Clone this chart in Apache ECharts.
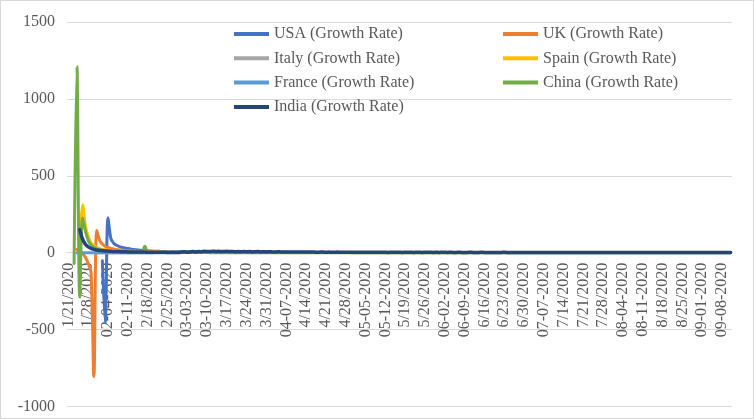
<!DOCTYPE html>
<html>
<head>
<meta charset="utf-8">
<script src="https://cdn.jsdelivr.net/npm/echarts@6/dist/echarts.min.js"></script>
<style>
  html, body { margin: 0; padding: 0; background: #fff; }
  #chart { position: absolute; left: 0; top: 0; width: 754px; height: 419px; }
  #frame { position: absolute; left: 0; top: 0; width: 752px; height: 417px; border: 1px solid #d9d9d9; pointer-events: none; }
</style>
</head>
<body>
<div id="chart"></div>
<div id="frame"></div>
<script>
// ---- categories: daily dates 1/21/2020 .. 9/12/2020 (labels as in the source sheet) ----
const startDate = [2020, 0, 21];
const dayCount = 235;
const categories = [];
for (let i = 0; i < dayCount; i++) {
  const d = new Date(Date.UTC(startDate[0], startDate[1], startDate[2] + i));
  const m = d.getUTCMonth() + 1, day = d.getUTCDate(), y = d.getUTCFullYear();
  categories.push(day <= 12
    ? String(m).padStart(2, '0') + '-' + String(day).padStart(2, '0') + '-' + y
    : m + '/' + day + '/' + y);
}

const yTicks = [-1000, -500, 0, 500, 1000, 1500];

const seriesNames = ['USA (Growth Rate)', 'UK (Growth Rate)', 'Italy (Growth Rate)', 'Spain (Growth Rate)',
                     'France (Growth Rate)', 'China (Growth Rate)', 'India (Growth Rate)'];
const seriesColors = ['#4472C4', '#ED7D31', '#A5A5A5', '#FFC000', '#5B9BD5', '#70AD47', '#264478'];

const usaGrowth = [
  null,null,null,null,null,null,null,null,null,null,
  null,null,-52,-455,227,92,62,48,40,34,
  30,27,24,21,19,17,15,14,12,11,
  10,9,9,8,8,7,7,6,6,6,
  5,6,5,7,8,6,7,8,7,8,
  8,7,8,7,6,7,6,7,6,5,
  6,5,5,4,5,4,4,4,3,4,
  3,3,3,3,3,3,2,3,2,2,
  2,2,2,2,2,2,2,2,2,2,
  2,2,2,1,2,2,1,2,1,1,
  1,2,1,1,1,1,1,1,1,1,
  1,1,1,1,1,1,1,1,1,1,
  1,1,1,1,1,1,1,1,1,1,
  1,1,1,1,1,1,1,1,1,1,
  1,1,1,1,1,1,2,1,1,1,
  1,1,1,1,2,2,1,1,1,2,
  2,2,1,2,2,1,2,2,2,1,
  2,1,2,2,1,2,1,1,1,1,
  1,1,1,1,1,1,1,1,1,1,
  1,1,1,1,1,1,1,1,1,1,
  1,1,1,1,1,1,1,1,1,1,
  1,1,1,1,1,1,1,1,1,1,
  1,1,1,1,1,1,1,1,1,1,
  1,1,1,1,1
];
const ukGrowth = [
  null,null,null,20,15,-5,-30,-70,-130,-805,
  145,82,56,42,34,28,24,20,18,16,
  14,13,12,11,10,9,8,8,7,7,
  6,6,6,5,5,5,5,4,4,4,
  4,5,6,5,7,6,8,7,6,7,
  6,7,5,6,5,6,4,5,4,4,
  4,3,4,3,3,3,3,2,3,2,
  2,2,2,2,2,2,2,2,1,2,
  1,1,1,1,1,1,1,1,1,1,
  1,1,1,1,1,1,1,1,1,1,
  1,1,1,1,1,1,1,1,1,1,
  1,1,1,1,1,1,1,1,1,1,
  1,1,1,1,1,1,1,1,1,1,
  1,1,1,1,1,1,1,1,1,1,
  1,1,1,1,1,1,1,1,1,1,
  1,1,1,1,1,1,1,1,1,1,
  1,1,1,1,1,1,1,1,1,1,
  1,1,1,1,1,1,1,1,1,1,
  1,1,1,1,1,1,1,1,1,1,
  1,1,1,1,1,1,1,1,1,1,
  1,1,1,1,1,1,1,1,1,1,
  1,1,1,1,1,1,1,1,1,1,
  1,1,1,1,1,1,1,1,1,1,
  1,1,1,1,1
];
const italyGrowth = [
  null,null,null,null,null,null,null,null,null,null,
  0,0,0,0,0,0,0,0,0,0,
  0,0,0,0,0,0,0,0,0,0,
  0,8,9,7,8,6,7,5,6,5,
  5,4,5,4,4,3,4,3,3,3,
  3,2,3,2,2,2,2,2,2,1,
  1,1,1,1,1,1,1,1,1,1,
  1,1,1,1,1,1,1,1,1,1,
  1,1,1,1,1,1,1,1,1,1,
  1,1,1,1,1,1,1,1,1,1,
  0,0,0,0,0,0,0,0,0,0,
  0,0,0,0,0,0,0,0,0,0,
  0,0,0,0,0,0,0,0,0,0,
  0,0,0,0,0,0,0,0,0,0,
  0,0,0,0,0,0,0,0,0,0,
  0,0,0,0,0,0,0,0,0,0,
  0,0,0,0,0,0,0,0,0,0,
  0,0,0,0,0,0,0,0,0,0,
  0,0,0,0,0,0,0,0,0,0,
  0,0,0,0,0,0,0,0,0,0,
  0,0,0,0,0,0,0,0,0,0,
  0,0,0,0,0,0,0,0,0,0,
  0,0,0,0,0,0,0,0,0,0,
  0,0,0,0,0
];
const spainGrowth = [
  null,null,null,null,50,312,175,105,65,45,
  35,28,23,20,17,15,13,12,11,10,
  9,8,8,7,7,6,6,5,5,5,
  4,4,4,3,3,3,5,7,8,6,
  7,6,5,6,5,4,4,3,3,3,
  3,2,2,2,2,2,2,1,2,1,
  1,1,1,1,1,1,1,1,1,1,
  1,1,1,1,1,1,1,1,1,1,
  1,1,1,1,1,1,1,1,1,1,
  1,1,1,1,1,1,1,1,1,1,
  1,1,1,1,1,1,1,1,1,1,
  1,1,1,1,1,1,1,1,1,1,
  1,1,1,1,1,1,1,1,1,1,
  1,1,1,1,1,1,1,1,1,1,
  1,1,1,1,1,1,1,1,1,1,
  1,1,1,1,1,1,1,1,1,1,
  1,1,1,1,1,1,1,1,1,1,
  1,1,1,1,1,1,1,1,1,1,
  1,1,1,1,1,1,1,1,1,1,
  1,1,1,1,1,1,1,1,1,1,
  1,1,1,1,1,1,1,1,1,1,
  1,1,1,1,1,1,1,1,1,1,
  1,1,1,1,1,1,1,1,1,1,
  1,1,1,1,1
];
const franceGrowth = [
  null,null,null,0,0,0,0,0,0,0,
  0,0,0,0,0,0,0,0,0,0,
  0,0,0,0,0,0,0,0,0,0,
  0,0,0,0,0,0,5,8,6,7,
  6,7,5,6,5,5,4,4,3,3,
  3,3,2,2,2,2,2,2,1,2,
  1,1,1,1,1,1,1,1,1,1,
  1,1,1,1,1,1,1,1,1,1,
  1,1,1,1,1,1,1,1,1,1,
  1,1,1,1,1,1,1,1,1,1,
  1,1,1,1,1,1,1,1,1,1,
  1,1,1,1,1,1,1,1,1,1,
  1,1,1,1,1,1,1,1,1,1,
  1,1,1,1,1,1,1,1,1,1,
  1,1,1,1,1,1,1,1,1,1,
  1,1,1,1,1,1,1,1,1,1,
  1,1,1,1,1,1,1,1,1,1,
  1,1,1,1,1,1,1,1,1,1,
  1,1,1,1,1,1,1,1,1,1,
  1,1,1,1,1,1,1,1,1,1,
  1,1,1,1,1,1,1,1,1,1,
  1,1,1,1,1,1,1,1,1,1,
  1,1,1,1,1,1,1,1,1,1,
  1,1,1,1,1
];
const chinaGrowth = [
  null,null,-70,1210,-288,225,140,80,50,35,
  25,20,16,13,11,9,8,7,6,6,
  5,5,5,4,4,3,5,42,3,2,
  2,2,1,1,1,1,1,1,1,1,
  1,1,1,1,1,1,1,1,1,1,
  0,0,0,0,0,0,0,0,0,0,
  0,0,0,0,0,0,0,0,0,0,
  0,0,0,0,0,0,0,0,0,0,
  0,0,0,0,0,0,0,0,0,0,
  0,0,0,0,0,0,0,0,0,0,
  0,0,0,0,0,0,0,0,0,0,
  0,0,0,0,0,0,0,0,0,0,
  0,0,0,0,0,0,0,0,0,0,
  0,0,0,0,0,0,0,0,0,0,
  0,0,0,0,0,0,0,0,0,0,
  0,0,0,0,0,0,0,0,0,0,
  0,0,0,0,0,0,0,0,0,0,
  0,0,0,0,0,0,0,0,0,0,
  0,0,0,0,0,0,0,0,0,0,
  0,0,0,0,0,0,0,0,0,0,
  0,0,0,0,0,0,0,0,0,0,
  0,0,0,0,0,0,0,0,0,0,
  0,0,0,0,0,0,0,0,0,0,
  0,0,0,0,0
];
const indiaGrowth = [
  null,null,null,null,150,88,55,38,28,22,
  18,15,13,11,10,9,8,7,7,6,
  6,5,5,5,4,4,4,4,3,3,
  3,3,3,3,3,2,2,2,2,2,
  4,6,3,5,8,5,7,6,9,8,
  7,10,8,9,7,8,9,7,8,6,
  7,6,8,6,7,5,6,7,5,6,
  5,6,5,4,6,5,5,4,5,4,
  4,5,4,4,5,4,4,4,3,4,
  4,3,4,3,3,4,3,3,3,3,
  3,3,3,3,3,3,3,3,3,3,
  3,3,3,2,3,3,3,3,2,3,
  3,3,2,3,3,2,3,3,3,2,
  3,2,3,3,2,3,2,2,3,2,
  2,2,3,2,2,2,3,2,2,2,
  2,2,2,2,3,2,2,2,2,2,
  2,2,2,2,2,2,2,2,2,2,
  2,2,2,2,2,2,2,2,2,2,
  2,2,2,2,2,2,2,2,2,2,
  2,2,2,2,2,2,2,2,2,2,
  2,2,2,2,2,2,2,2,2,2,
  2,2,2,2,2,1,2,2,2,2,
  2,1,2,2,2,2,1,2,2,2,
  1,2,2,1,2
];

const seriesData = [usaGrowth, ukGrowth, italyGrowth, spainGrowth, franceGrowth, chinaGrowth, indiaGrowth];

const chart = echarts.init(document.getElementById('chart'), null, { renderer: 'canvas' });
const font = '"Liberation Serif", "Times New Roman", serif';
const textColor = '#595959';

const legendCommon = {
  orient: 'vertical',
  top: 26,
  padding: 0,
  itemWidth: 35,
  itemHeight: 4,
  itemGap: 8.3,
  icon: 'rect',
  textStyle: { fontFamily: font, fontSize: 16, color: textColor, lineHeight: 16 },
  selectedMode: false
};

chart.setOption({
  animation: false,
  backgroundColor: '#ffffff',
  grid: { left: 67, right: 22, top: 22, bottom: 12.5, containLabel: false, outerBoundsMode: 'none' },
  legend: [
    Object.assign({}, legendCommon, { left: 234, data: [seriesNames[0], seriesNames[2], seriesNames[4], seriesNames[6]] }),
    Object.assign({}, legendCommon, { left: 503, data: [seriesNames[1], seriesNames[3], seriesNames[5]] })
  ],
  xAxis: {
    type: 'category',
    data: categories,
    boundaryGap: true,
    position: 'bottom',
    offset: 0,
    axisLine: { show: true, onZero: false, lineStyle: { color: '#d9d9d9', width: 1 } },
    axisTick: { show: false },
    axisLabel: {
      interval: 6,
      rotate: 90,
      margin: 10,
      fontFamily: font,
      fontSize: 16,
      color: textColor
    },
    splitLine: { show: false }
  },
  yAxis: {
    type: 'value',
    min: yTicks[0],
    max: yTicks[yTicks.length - 1],
    interval: 500,
    axisLine: { show: false },
    axisTick: { show: false },
    axisLabel: {
      margin: 12,
      fontFamily: font,
      fontSize: 16,
      color: textColor,
      formatter: v => String(v)
    },
    splitLine: { lineStyle: { color: '#d9d9d9', width: 1 } }
  },
  series: seriesNames.map((name, i) => ({
    name: name,
    type: 'line',
    data: seriesData[i],
    smooth: 0.35,
    showSymbol: false,
    symbol: 'none',
    connectNulls: false,
    color: seriesColors[i],
    lineStyle: { color: seriesColors[i], width: i === 6 ? 3.5 : 3, cap: 'round', join: 'round' },
    z: 2 + i
  }))
});

// Place the category axis on the value-axis zero line (as Excel does), using the chart's own scale.
const zeroY = chart.convertToPixel({ yAxisIndex: 0 }, 0);
const minY = chart.convertToPixel({ yAxisIndex: 0 }, yTicks[0]);
chart.setOption({ xAxis: { offset: zeroY - minY } });
</script>
</body>
</html>
